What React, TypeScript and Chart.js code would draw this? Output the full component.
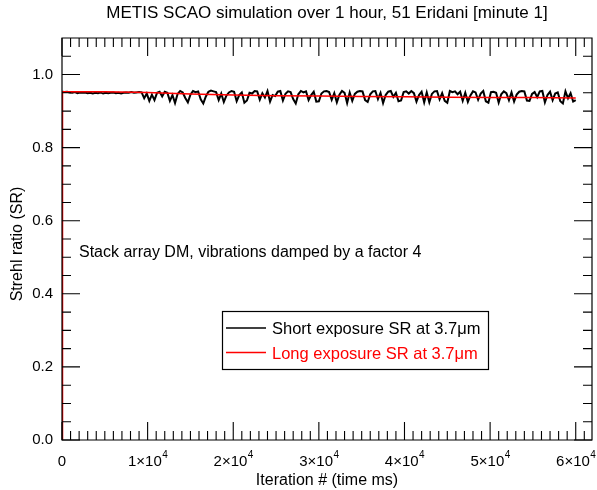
import React, { useEffect, useRef } from "react";
import { Chart, registerables } from "chart.js";

Chart.register(...registerables);

// Short exposure SR sampled every 300 iterations (0 .. 60000)
const shortStep = 300;
const shortValues = [
  0.953, 0.952, 0.953, 0.951, 0.950, 0.952, 0.949, 0.951, 0.950, 0.951,
  0.949, 0.950, 0.948, 0.950, 0.949, 0.951, 0.948, 0.950, 0.949, 0.950,
  0.951, 0.949, 0.950, 0.948, 0.950, 0.951, 0.950, 0.952, 0.950, 0.951, 0.952,
  0.951, 0.935, 0.948, 0.928, 0.945, 0.930, 0.950, 0.953, 0.940,
  0.953, 0.950, 0.928, 0.944, 0.922, 0.947, 0.955, 0.951, 0.936, 0.924,
  0.945, 0.955, 0.952, 0.954, 0.932, 0.921, 0.940, 0.953, 0.956, 0.954,
  0.952, 0.930, 0.948, 0.925, 0.942, 0.951, 0.955, 0.953, 0.927, 0.944,
  0.951, 0.923, 0.929, 0.950, 0.948, 0.955, 0.954, 0.931, 0.949, 0.937,
  0.955, 0.926, 0.944, 0.941, 0.953, 0.955, 0.929, 0.947, 0.954, 0.952,
  0.933, 0.921, 0.946, 0.955, 0.951, 0.954, 0.930, 0.944, 0.953, 0.926,
  0.927, 0.948, 0.954, 0.955, 0.952, 0.931, 0.949, 0.924, 0.945, 0.955,
  0.950, 0.922, 0.951, 0.928, 0.947, 0.953, 0.955, 0.954, 0.930, 0.925,
  0.946, 0.954, 0.955, 0.933, 0.950, 0.922, 0.944, 0.953, 0.955, 0.939,
  0.950, 0.927, 0.929, 0.952, 0.954, 0.948, 0.955, 0.949, 0.926, 0.944,
  0.953, 0.924, 0.951, 0.924, 0.947, 0.954, 0.955, 0.932, 0.949, 0.928,
  0.923, 0.955, 0.952, 0.954, 0.946, 0.953, 0.928, 0.950, 0.925, 0.943,
  0.954, 0.951, 0.931, 0.948, 0.955, 0.927, 0.923, 0.952, 0.953, 0.950,
  0.923, 0.946, 0.954, 0.949, 0.930, 0.951, 0.926, 0.945, 0.953, 0.955,
  0.954, 0.929, 0.928, 0.947, 0.952, 0.938, 0.954, 0.955, 0.924, 0.944,
  0.953, 0.930, 0.948, 0.951, 0.927, 0.921, 0.954, 0.935, 0.949, 0.926,
  0.930,
];

// Long exposure SR (running average)
const longIterations = [0, 60, 5000, 10000, 15000, 20000, 25000, 30000, 35000, 40000, 45000, 50000, 55000, 60000];
const longValues = [0, 0.953, 0.953, 0.951, 0.947, 0.944, 0.942, 0.941, 0.940, 0.939, 0.938, 0.937, 0.937, 0.936];

const xMajorTicks = [0, 10000, 20000, 30000, 40000, 50000, 60000];
const xTickMantissas = ["0", "1", "2", "3", "4", "5", "6"];
const xTickExponent = "4";
const yMajorTicks = [0, 0.2, 0.4, 0.6, 0.8, 1.0];
const yTickLabels = ["0.0", "0.2", "0.4", "0.6", "0.8", "1.0"];

const titleText = "METIS SCAO simulation over 1 hour, 51 Eridani [minute 1]";
const xTitle = "Iteration # (time ms)";
const yTitle = "Strehl ratio (SR)";
const annotationText = "Stack array DM, vibrations damped by a factor 4";
const legendLabels = ["Short exposure SR at 3.7\u03bcm", "Long exposure SR at 3.7\u03bcm"];

const FONT = "'Liberation Sans', Arial, Helvetica, sans-serif";

const framePlugin = {
  id: "frame",
  afterDraw(chart: any) {
    const { ctx, chartArea: a, scales } = chart;
    const xs = scales.x;
    const ys = scales.y;
    const L = a.left, R = a.right, T = a.top, B = a.bottom;
    ctx.save();
    ctx.strokeStyle = "#000";
    ctx.lineWidth = 1.2;
    ctx.beginPath();
    ctx.rect(L, T, R - L, B - T);
    ctx.stroke();

    // x ticks (inward, top and bottom)
    ctx.lineWidth = 1.1;
    ctx.beginPath();
    for (let k = 0; k <= 61; k++) {
      const px = xs.getPixelForValue(k * 1000);
      if (px > R) break;
      const len = k % 10 === 0 ? 18 : 9;
      ctx.moveTo(px, B);
      ctx.lineTo(px, B - len);
      ctx.moveTo(px, T);
      ctx.lineTo(px, T + len);
    }
    // y ticks (inward, left and right)
    for (let k = 0; k <= 21; k++) {
      const py = ys.getPixelForValue(k * 0.05);
      const len = k % 4 === 0 ? 18 : 9;
      ctx.moveTo(L, py);
      ctx.lineTo(L + len, py);
      ctx.moveTo(R, py);
      ctx.lineTo(R - len, py);
    }
    ctx.stroke();

    ctx.fillStyle = "#000";
    // y tick labels
    ctx.font = `15px ${FONT}`;
    ctx.textAlign = "right";
    ctx.textBaseline = "middle";
    yMajorTicks.forEach((v, i) => {
      ctx.fillText(yTickLabels[i], L - 9, ys.getPixelForValue(v));
    });

    // x tick labels
    ctx.textBaseline = "alphabetic";
    ctx.textAlign = "left";
    xMajorTicks.forEach((v, i) => {
      const cx = xs.getPixelForValue(v);
      const m = xTickMantissas[i];
      ctx.font = `15px ${FONT}`;
      if (v === 0) {
        const w = ctx.measureText(m).width;
        ctx.fillText(m, cx - w / 2, 466);
        return;
      }
      const base = m + "\u00d710";
      const w1 = ctx.measureText(base).width;
      ctx.font = `10px ${FONT}`;
      const w2 = ctx.measureText(xTickExponent).width;
      const start = cx - (w1 + w2) / 2;
      ctx.font = `15px ${FONT}`;
      ctx.fillText(base, start, 466);
      ctx.font = `10px ${FONT}`;
      ctx.fillText(xTickExponent, start + w1 + 0.5, 458);
    });

    // titles
    ctx.textAlign = "center";
    ctx.font = `17px ${FONT}`;
    ctx.fillText(titleText, (L + R) / 2, 18);
    ctx.font = `16px ${FONT}`;
    ctx.fillText(xTitle, (L + R) / 2, 485);
    ctx.save();
    ctx.translate(22, 244);
    ctx.rotate(-Math.PI / 2);
    ctx.textBaseline = "alphabetic";
    ctx.fillText(yTitle, 0, 0);
    ctx.restore();

    // annotation
    ctx.textAlign = "left";
    ctx.textBaseline = "middle";
    ctx.fillText(annotationText, 79, 253);

    // legend
    ctx.font = `16.5px ${FONT}`;
    ctx.lineWidth = 1.2;
    ctx.strokeStyle = "#000";
    ctx.strokeRect(222.5, 311.5, 266, 58);
    ctx.lineWidth = 1.5;
    ctx.beginPath();
    ctx.moveTo(226, 328);
    ctx.lineTo(266, 328);
    ctx.stroke();
    ctx.fillStyle = "#000";
    ctx.fillText(legendLabels[0], 272, 329);
    ctx.strokeStyle = "#ff0000";
    ctx.beginPath();
    ctx.moveTo(226, 352.5);
    ctx.lineTo(266, 352.5);
    ctx.stroke();
    ctx.fillStyle = "#ff0000";
    ctx.fillText(legendLabels[1], 272, 354);

    ctx.restore();
  },
};

export default function App() {
  const ref = useRef<HTMLCanvasElement | null>(null);
  useEffect(() => {
    if (!ref.current) return;
    const shortData = shortValues.map((y, i) => ({ x: i * shortStep, y }));
    const longData = longValues.map((y, i) => ({ x: longIterations[i], y }));
    const chart = new Chart(ref.current, {
      type: "line",
      data: {
        datasets: [
          {
            label: legendLabels[1],
            data: longData,
            borderColor: "#ff0000",
            borderWidth: 1.5,
            pointRadius: 0,
            tension: 0,
          },
          {
            label: legendLabels[0],
            data: shortData,
            borderColor: "#000000",
            borderWidth: 2,
            pointRadius: 0,
            tension: 0,
          },
        ],
      },
      options: {
        responsive: false,
        animation: false,
        layout: { padding: { left: 62, right: 5, top: 38, bottom: 50 } },
        plugins: { legend: { display: false }, tooltip: { enabled: false }, title: { display: false } },
        scales: {
          x: { type: "linear", min: 0, max: 61900, display: false },
          y: { type: "linear", min: 0, max: 1.1, display: false },
        },
      },
      plugins: [framePlugin],
    });
    return () => chart.destroy();
  }, []);
  return (
    <div style={{ position: "fixed", left: 0, top: 0, width: 597, height: 490, background: "#fff" }}>
      <canvas ref={ref} width={597} height={490} style={{ display: "block", width: 597, height: 490 }} />
    </div>
  );
}
